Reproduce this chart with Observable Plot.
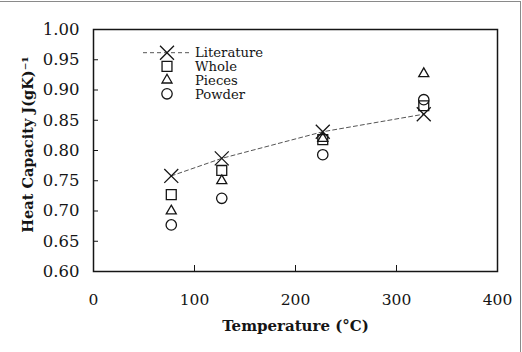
<!DOCTYPE html>
<html>
<head>
<meta charset="utf-8">
<script src="https://cdn.jsdelivr.net/npm/d3@7"></script>
<script src="https://cdn.jsdelivr.net/npm/@observablehq/plot@0.6"></script>
<style>
  body { margin: 0; background: #fff; }
  #wrap { position: relative; width: 522px; height: 352px; overflow: hidden; }
  #wrap::before {
    content: ""; position: absolute; left: 0; top: 1px; width: 520.5px; height: 400px;
    border-top: 1.5px solid #8a8a8a; border-right: 1.5px solid #8a8a8a; box-sizing: border-box;
  }
  #wrap svg { position: absolute; left: 0; top: 0; }
</style>
</head>
<body>
<div id="wrap"></div>
<script>
// Measured heat capacity of the samples, J/(g·K), against temperature (°C)
const temps      = [77, 127, 227, 327];
const literature = [0.758, 0.787, 0.831, 0.860];
const whole      = [0.727, 0.767, 0.818, 0.874];
const pieces     = [0.700, 0.750, 0.820, 0.927];
const powder     = [0.677, 0.721, 0.793, 0.884];

const seriesNames = ["Literature", "Whole", "Pieces", "Powder"];
const xTickLabels = [0, 100, 200, 300, 400];
const xTickMarks  = [100, 200, 300];
const yTicks      = [0.60, 0.65, 0.70, 0.75, 0.80, 0.85, 0.90, 0.95, 1.00];
const xLabel = "Temperature (°C)";
const yLabel = "Heat Capacity J(gK)⁻¹";

const rows = temps.map((t, i) => ({
  t, lit: literature[i], whole: whole[i], pieces: pieces[i], powder: powder[i]
}));

const ink = "#151515";
const FONT = "DejaVu Serif";

// symbol, radius for each series
const styles = {
  Literature: {symbol: "times", r: 6.4},
  Whole:      {symbol: "square2", r: 6.3},
  Pieces:     {symbol: "triangle2", r: 4.8},
  Powder:     {symbol: "circle", r: 5.2}
};

const chart = Plot.plot({
  width: 522,
  height: 352,
  marginLeft: 93,
  marginRight: 25,
  marginTop: 29,
  marginBottom: 81,
  style: {fontFamily: FONT, fontSize: "15.5px", color: ink, background: "transparent", overflow: "visible"},
  x: {domain: [0, 400]},
  y: {domain: [0.6, 1.0]},
  marks: [
    // tick labels
    Plot.axisX(xTickLabels, {fontFamily: FONT, fontSize: 15.5, fill: ink, tickSize: 0, tickPadding: 22, tickFormat: d => String(d), label: null}),
    Plot.axisY(yTicks, {fontFamily: FONT, fontSize: 16.5, fill: ink, tickSize: 0, tickPadding: 14, tickFormat: d3.format(".2f"), label: null}),
    // inward tick marks
    Plot.axisX(xTickMarks, {tickSize: -6, tickFormat: () => "", label: null, stroke: ink}),
    Plot.axisY(yTicks, {tickSize: -5, tickFormat: () => "", label: null, stroke: ink}),
    Plot.frame({stroke: ink, strokeWidth: 1.5}),
    // axis titles
    Plot.text([xLabel], {frameAnchor: "bottom", dy: 59, fontFamily: FONT, fontWeight: "bold", fontSize: 15, fill: ink}),
    Plot.text([yLabel], {frameAnchor: "left", textAnchor: "middle", rotate: -90, dx: -65, dy: -6, fontFamily: FONT, fontWeight: "bold", fontSize: 14.5, fill: ink}),
    // literature trend
    Plot.line(rows, {x: "t", y: "lit", stroke: "#555", strokeWidth: 1, strokeDasharray: "4,3"}),
    // measurements
    Plot.dot(rows, {x: "t", y: "whole", symbol: styles.Whole.symbol, r: styles.Whole.r, stroke: ink, strokeWidth: 1.3, fill: "none"}),
    Plot.dot(rows, {x: "t", y: "pieces", symbol: styles.Pieces.symbol, r: styles.Pieces.r, stroke: ink, strokeWidth: 1.3, fill: "none"}),
    Plot.dot(rows, {x: "t", y: "powder", symbol: styles.Powder.symbol, r: styles.Powder.r, stroke: ink, strokeWidth: 1.3, fill: "none"}),
    Plot.dot(rows, {x: "t", y: "lit", symbol: styles.Literature.symbol, r: styles.Literature.r, stroke: ink, strokeWidth: 1.3})
  ]
});

// legend inside the plot area
const svg = d3.select(chart);
const leg = svg.append("g")
  .attr("font-family", FONT).attr("font-size", 13.2).attr("fill", ink).attr("text-anchor", "start");
const symbolTypes = {times: d3.symbolTimes, square2: d3.symbolSquare2, triangle2: d3.symbolTriangle2, circle: d3.symbolCircle};
const legX = 167, legY = 52.7, legStep = 13.7;
seriesNames.forEach((name, i) => {
  const s = styles[name];
  const gy = legY + i * legStep;
  const g = leg.append("g").attr("transform", `translate(${legX},${gy})`);
  if (name === "Literature") {
    g.append("line").attr("x1", -24).attr("x2", 23).attr("y1", 0).attr("y2", 0)
      .attr("stroke", "#555").attr("stroke-width", 1).attr("stroke-dasharray", "4,3");
  }
  g.append("path")
    .attr("d", d3.symbol(symbolTypes[s.symbol], Math.PI * s.r * s.r)())
    .attr("fill", "none").attr("stroke", ink).attr("stroke-width", 1.3);
  g.append("text").attr("x", 28).attr("dy", "0.36em").attr("text-anchor", "start").text(name);
});

document.getElementById("wrap").appendChild(chart);
</script>
</body>
</html>
